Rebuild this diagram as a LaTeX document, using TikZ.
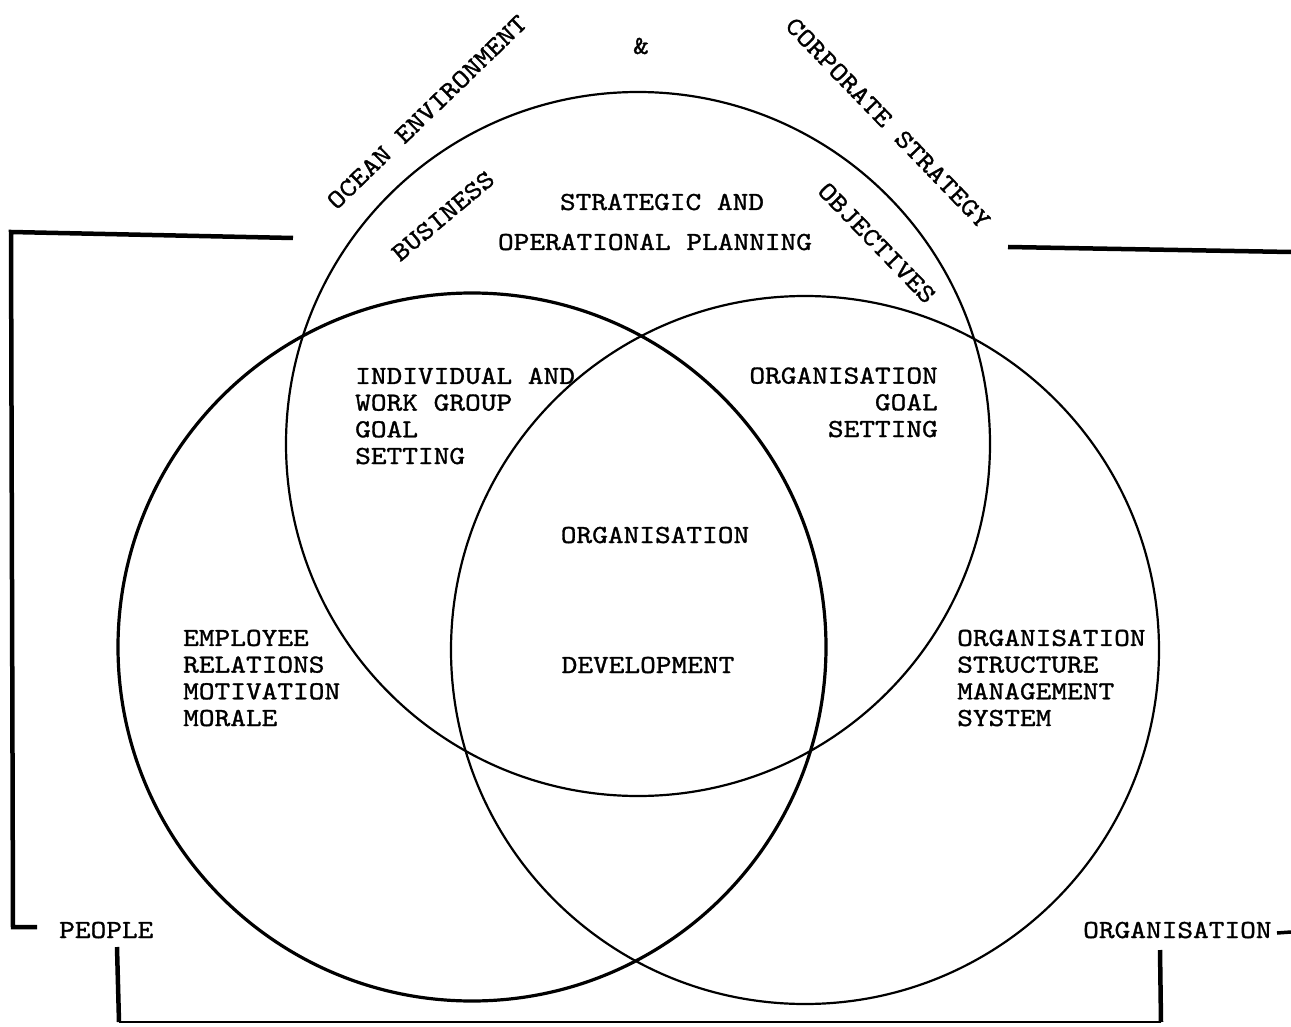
\documentclass[tikz,border=0pt]{standalone}
\usepackage{fontspec}
\newfontfamily\tw{lmmono10-regular.otf}[FakeStretch=1.15,FakeBold=1.2]
\tikzset{
  lbl/.style={font=\tw\fontsize{26}{26.7}\selectfont, inner sep=0pt},
  thin circ/.style={line width=2.2pt},
  thick circ/.style={line width=3.2pt},
  bracket/.style={line width=4.5pt, line join=miter},
  bline/.style={line width=2.2pt}
}
\begin{document}
\begin{tikzpicture}[x=1pt,y=-1pt]
\useasboundingbox (0,0) rectangle (1291,1027);
% circles
\draw[thin circ] (638,444) circle (352);
\draw[thick circ] (472,647) circle (354);
\draw[thin circ] (805,650) circle (354);
% top rotated labels
\node[lbl, rotate=44] (ocean) at (427,112) {OCEAN ENVIRONMENT};
\node[lbl] (amp) at (641,46) {\&};
\node[lbl, rotate=-46] (corp) at (888,123) {CORPORATE STRATEGY};
\node[lbl, rotate=40] (bus) at (443,216) {BUSINESS};
\node[lbl, rotate=-46] (obj) at (877,243) {OBJECTIVES};
% planning
\node[lbl, anchor=base] (strat) at (662,210) {STRATEGIC AND};
\node[lbl, anchor=base] (oper) at (655,250) {OPERATIONAL PLANNING};
% goal setting blocks (base = last line)
\node[lbl, align=left, anchor=base west] (indiv) at (355,464) {INDIVIDUAL AND\\WORK GROUP\\GOAL\\SETTING};
\node[lbl, align=right, anchor=base east] (orggoal) at (938,437) {ORGANISATION\\GOAL\\SETTING};
% centre
\node[lbl, anchor=base] (od1) at (655,543) {ORGANISATION};
\node[lbl, anchor=base] (od2) at (648,673) {DEVELOPMENT};
% side blocks
\node[lbl, align=left, anchor=base west] (emp) at (183,726) {EMPLOYEE\\RELATIONS\\MOTIVATION\\MORALE};
\node[lbl, align=left, anchor=base west] (orgstr) at (957,726) {ORGANISATION\\STRUCTURE\\MANAGEMENT\\SYSTEM};
% bottom labels
\node[lbl, anchor=base west] (people) at (59,938) {PEOPLE};
\node[lbl, anchor=base west] (org) at (1083,938) {ORGANISATION};
% brackets
\coordinate (l1) at (293,238);
\coordinate (l2) at (11,232);
\coordinate (l3) at (13,927);
\coordinate (l4) at (37,927);
\draw[bracket] (l1) -- (l2) -- (l3) -- (l4);
\coordinate (r1) at (1008,247);
\coordinate (r2) at (1291,252);
\draw[bracket] (r1) -- (r2);
\coordinate (s1) at (1277,933);
\coordinate (s2) at (1291,932);
\draw[line width=3.5pt] (s1) -- (s2);
\coordinate (b1) at (117,947);
\coordinate (b2) at (119,1022);
\coordinate (b3) at (1161,1022);
\coordinate (b4) at (1160,950);
\draw[bracket] (b1) -- (b2);
\draw[bracket] (b3) -- (b4);
\draw[bline] (b2) -- (b3);
\end{tikzpicture}
\end{document}
